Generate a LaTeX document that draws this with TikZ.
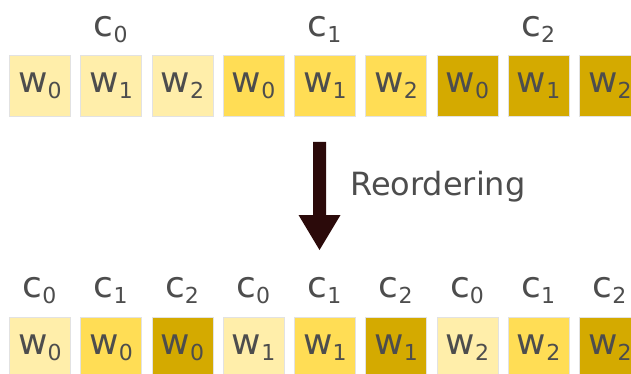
\documentclass[tikz,border=0pt]{standalone}
\usepackage{fontspec}
\setmainfont{DejaVu Sans}
\definecolor{lite}{HTML}{FFEEAA}
\definecolor{med}{HTML}{FFDD55}
\definecolor{dark}{HTML}{D4AA00}
\definecolor{txt}{HTML}{4D4D4D}
\definecolor{edgegray}{HTML}{E2E2E2}
\definecolor{arrowc}{HTML}{2B0A0A}
\newcommand\mysub[2]{#1\raisebox{-6pt}{\fontsize{22}{22}\selectfont #2}}
\begin{document}
\begin{tikzpicture}[x=1pt,y=-1pt,
  cell/.style={draw=edgegray, line width=0.8pt, minimum width=61pt, minimum height=61pt, inner sep=0pt, anchor=north west, text=txt, font=\fontsize{36}{36}\selectfont},
  lab/.style={text=txt, inner sep=0pt, anchor=base, font=\fontsize{36}{36}\selectfont}]
\useasboundingbox (0,0) rectangle (631,374);
\clip (0,0) rectangle (631,374);
% top row
\foreach \i/\c/\w in {0/lite/0,1/lite/1,2/lite/2,3/med/0,4/med/1,5/med/2,6/dark/0,7/dark/1,8/dark/2}{
  \node[cell, fill=\c] (t\i) at ({9+71.25*\i},55) {\mysub{w}{\w}};
}
% bottom row
\foreach \i/\c/\w/\k in {0/lite/0/0,1/med/0/1,2/dark/0/2,3/lite/1/0,4/med/1/1,5/dark/1/2,6/lite/2/0,7/med/2/1,8/dark/2/2}{
  \node[cell, fill=\c] (b\i) at ({9+71.25*\i},317) {\mysub{w}{\w}};
  \node[lab] (bl\i) at ({39.5+71.25*\i},297) {\mysub{c}{\k}};
}
% top labels
\node[lab] (tl0) at ({39.5+71.25*1},37) {\mysub{c}{0}};
\node[lab] (tl1) at ({39.5+71.25*4},37) {\mysub{c}{1}};
\node[lab] (tl2) at ({39.5+71.25*7},37) {\mysub{c}{2}};
% arrow
\coordinate (as) at (319.5,142);
\coordinate (ae) at (319.5,250);
\fill[arrowc] (313,142) -- (326,142) -- (326,215) -- (340.5,215) -- (ae) -- (298.5,215) -- (313,215) -- cycle;
\node[text=txt, inner sep=0pt, anchor=base west, font=\fontsize{32}{32}\selectfont] (reord) at (350,195) {Reordering};
\end{tikzpicture}
\end{document}
